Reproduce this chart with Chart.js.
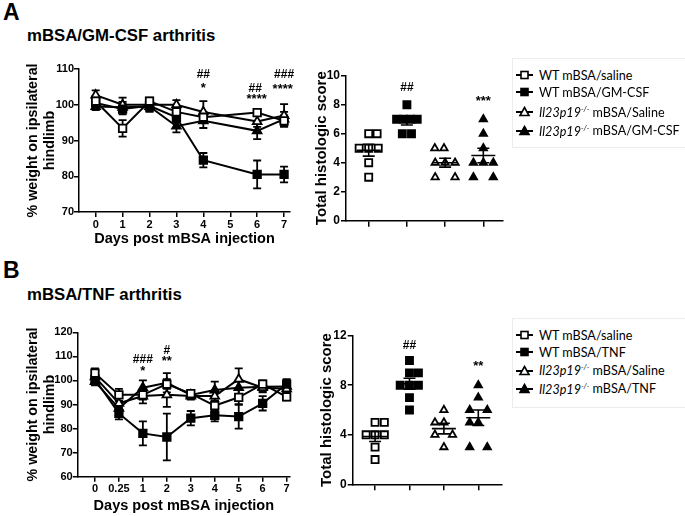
<!DOCTYPE html>
<html>
<head>
<meta charset="utf-8">
<script src="https://cdn.jsdelivr.net/npm/chart.js@4.4.1/dist/chart.umd.min.js"></script>
<style>
  body { margin: 0; background: #fff; }
  #fig { position: relative; width: 685px; height: 516px; overflow: hidden; background: #fff;
         font-family: "Liberation Sans", Arial, sans-serif; color: #000; }
  .abs { position: absolute; }
  .panel { font-weight: bold; font-size: 23px; line-height: 1; }
  .ttl { font-weight: bold; font-size: 16.8px; line-height: 1; white-space: nowrap; }
  .legbox { position: absolute; border: 1px solid #ececec; }
  .row { position: absolute; left: 516px; height: 18px; display: flex; align-items: center;
         font-family: Lato, "Open Sans", sans-serif; font-size: 12.6px; white-space: nowrap; }
  .row svg { margin-right: 6px; }
  .row i sup { font-size: 7.5px; }
</style>
</head>
<body>
<div id="fig">
  <div class="abs panel" style="left:3px;top:1px">A</div>
  <div class="abs ttl" style="left:27px;top:28px">mBSA/GM-CSF arthritis</div>
  <div class="abs panel" style="left:3px;top:259px">B</div>
  <div class="abs ttl" style="left:27px;top:287px">mBSA/TNF arthritis</div>

  <div class="abs" style="left:0;top:50px"><canvas id="lineA" width="300" height="198"></canvas></div>
  <div class="abs" style="left:295px;top:55px"><canvas id="scoreA" width="215" height="180"></canvas></div>
  <div class="abs" style="left:0;top:310px"><canvas id="lineB" width="300" height="205"></canvas></div>
  <div class="abs" style="left:300px;top:315px"><canvas id="scoreB" width="210" height="180"></canvas></div>

  <div class="legbox" style="left:512px;top:58px;width:180px;height:88px"></div>
  <div class="legbox" style="left:512px;top:318px;width:180px;height:88px"></div>
  <div id="legA"></div>
  <div id="legB"></div>
</div>

<script>
// ---- panel A: weight bearing (days 0-7, no day 5 reading)
const daysA = [0, 1, 2, 3, 4, 6, 7];
const dayTicksA = ['0', '1', '2', '3', '4', '5', '6', '7'];
const wtSalineA = [101, 93.4, 101, 98, 96.5, 97.8, 95.5];
const wtSalineErrA = [1.5, 2.3, 1, 1.5, 1.5, 1, 1.5];
const wtGmcsfA = [100.5, 98.8, 99.7, 96.5, 84.5, 80.5, 80.5];
const wtGmcsfErrA = [1.5, 1.5, 1.5, 1.5, 2, 3.9, 2.2];
const koSalineA = [102.7, 100, 100, 100, 98, 95.3, 97];
const koSalineErrA = [1.3, 2, 1.5, 1.3, 3, 1.5, 3.2];
const koGmcsfA = [99.5, 99.3, 99.5, 94, 95.5, 92.7, 96];
const koGmcsfErrA = [1, 1.5, 1.5, 1.7, 2, 2.3, 2];

// ---- panel A: histologic scores
const wtSalineScoreA = [6, 6, 5, 5, 5, 4, 3];
const wtGmcsfScoreA = [8, 7, 7, 7, 7, 6, 6];
const koSalineScoreA = [5, 5, 4, 4, 4, 3, 3];
const koGmcsfScoreA = [7, 6, 5, 4, 4, 4, 3, 3];

// ---- panel B: weight bearing
const dayTicksB = ['0', '0.25', '1', '2', '3', '4', '5', '6', '7'];
const wtSalineB = [103, 94, 94, 98.5, 94.5, 89.5, 93, 98.5, 93.2];
const wtSalineErrB = [2, 2.5, 2, 2, 1.5, 2, 3, 1.5, 1.5];
const wtTnfB = [100.5, 86.3, 78, 76.5, 84.3, 85.5, 85, 90.5, 98.5];
const wtTnfErrB = [1.5, 2.5, 5, 9.7, 3, 2.5, 5, 3, 2];
const koSalineB = [101.5, 90.5, 93.5, 94, 93.5, 93.5, 100.5, 97, 96.5];
const koSalineErrB = [2, 2.5, 3, 5, 1.5, 2, 4.5, 2, 2];
const koTnfB = [99.5, 88.4, 97, 99, 94, 96, 97, 97.4, 97.5];
const koTnfErrB = [1.5, 3, 3, 4, 1.5, 3.5, 3, 2, 2];

// ---- panel B: histologic scores
const wtSalineScoreB = [5, 5, 4, 4, 4, 3, 2];
const wtTnfScoreB = [10, 9, 9, 8, 8, 8, 7, 6];
const koSalineScoreB = [6, 5, 5, 4, 4, 3];
const koTnfScoreB = [8, 7, 6, 6, 5, 5, 3, 3];

// significance marks (x = day position, y = value on axis)
const notesA = [
  { x: 4, y: 108.3, t: '##' }, { x: 4, y: 104.6, t: '*' },
  { x: 5.93, y: 104.5, t: '##' }, { x: 5.98, y: 101.6, t: '****' },
  { x: 7, y: 108.3, t: '###' }, { x: 6.95, y: 104.2, t: '****' }
];
const notesB = [
  { x: 2, y: 108.8, t: '###' }, { x: 2, y: 103.6, t: '*' },
  { x: 3, y: 112.2, t: '#' }, { x: 3, y: 108.1, t: '**' }
];
const notesScoreA = [{ x: 2, y: 9.2, t: '##' }, { x: 4, y: 8.2, t: '***' }];
const notesScoreB = [{ x: 2, y: 11.2, t: '##' }, { x: 4, y: 9.5, t: '**' }];

Chart.defaults.font.family = '"Liberation Sans", Arial, sans-serif';
Chart.defaults.color = '#000';

const errorBars = {
  id: 'errorBars',
  beforeDatasetsDraw(chart) {
    const ctx = chart.ctx, ys = chart.scales.y;
    chart.data.datasets.forEach((ds, i) => {
      if (!ds.errors) return;
      const meta = chart.getDatasetMeta(i);
      ctx.save();
      ctx.strokeStyle = '#000';
      ctx.lineWidth = 1.8;
      meta.data.forEach((pt, j) => {
        const v = ds.data[j].y, e = ds.errors[j];
        const top = ys.getPixelForValue(v + e), bot = ys.getPixelForValue(v - e);
        ctx.beginPath();
        ctx.moveTo(pt.x, top); ctx.lineTo(pt.x, bot);
        ctx.moveTo(pt.x - 4, top); ctx.lineTo(pt.x + 4, top);
        ctx.moveTo(pt.x - 4, bot); ctx.lineTo(pt.x + 4, bot);
        ctx.stroke();
      });
      ctx.restore();
    });
  }
};

const meanSem = {
  id: 'meanSem',
  afterDatasetsDraw(chart) {
    const { ctx, scales: { x, y } } = chart;
    chart.data.datasets.forEach(ds => {
      const v = ds.data.map(p => p.y), n = v.length;
      const m = v.reduce((a, b) => a + b, 0) / n;
      const sd = Math.sqrt(v.reduce((a, b) => a + (b - m) ** 2, 0) / (n - 1));
      const se = sd / Math.sqrt(n);
      const cx = x.getPixelForValue(ds.group);
      const pm = y.getPixelForValue(m), pt = y.getPixelForValue(m + se), pb = y.getPixelForValue(m - se);
      ctx.save();
      ctx.strokeStyle = '#000';
      ctx.lineWidth = 1.6;
      ctx.beginPath();
      ctx.moveTo(cx - 12, pm); ctx.lineTo(cx + 12, pm);
      ctx.moveTo(cx, pt); ctx.lineTo(cx, pb);
      ctx.moveTo(cx - 6, pt); ctx.lineTo(cx + 6, pt);
      ctx.moveTo(cx - 6, pb); ctx.lineTo(cx + 6, pb);
      ctx.stroke();
      ctx.restore();
    });
  }
};

const notes = {
  id: 'notes',
  afterDatasetsDraw(chart, args, opts) {
    const { ctx, scales: { x, y } } = chart;
    (opts.items || []).forEach(n => {
      ctx.save();
      ctx.font = (n.t.indexOf('*') >= 0 ? 'bold 13px ' : 'bold 12px ') + Chart.defaults.font.family;
      ctx.fillStyle = '#000';
      ctx.textAlign = 'center';
      ctx.textBaseline = 'middle';
      ctx.fillText(n.t, x.getPixelForValue(n.x), y.getPixelForValue(n.y));
      ctx.restore();
    });
  }
};

const axisGrid = { drawOnChartArea: false, drawTicks: true, tickLength: 5, color: '#000', lineWidth: 1.5 };
const axisBorder = { color: '#000', width: 1.5 };

const styles = [
  { pointStyle: 'rect', pointBackgroundColor: '#fff', pointRadius: 5.3 },
  { pointStyle: 'rect', pointBackgroundColor: '#000', pointRadius: 5.3 },
  { pointStyle: 'triangle', pointBackgroundColor: '#fff', pointRadius: 5 },
  { pointStyle: 'triangle', pointBackgroundColor: '#000', pointRadius: 5 }
];

function lineSet(label, xs, ys, errs, k) {
  return Object.assign({
    label: label,
    data: ys.map((v, i) => ({ x: xs[i], y: v })),
    errors: errs,
    borderColor: '#000',
    borderWidth: 2,
    pointBorderColor: '#000',
    pointBorderWidth: 1.8,
    clip: false
  }, styles[k]);
}

function lineChart(id, sets, ticks, xmin, xmax, ymin, ymax, ystep, pad, yWidth, xHeight, items) {
  return new Chart(document.getElementById(id), {
    type: 'line',
    data: { datasets: sets },
    options: {
      responsive: false, animation: false, devicePixelRatio: 1,
      layout: { padding: pad },
      plugins: { legend: { display: false }, tooltip: { enabled: false }, notes: { items: items } },
      scales: {
        x: {
          type: 'linear', min: xmin, max: xmax,
          ticks: { stepSize: 1, includeBounds: false, autoSkip: false, maxRotation: 0,
                   padding: 1, font: { size: 11, weight: 'bold' }, callback: v => ticks[v] },
          grid: axisGrid, border: axisBorder,
          title: { display: true, text: 'Days post mBSA injection', padding: 0,
                   font: { size: 14.5, weight: 'bold' } },
          afterFit: s => { s.height = xHeight; }
        },
        y: {
          min: ymin, max: ymax,
          ticks: { stepSize: ystep, padding: 0, font: { size: 11, weight: 'bold' } },
          grid: axisGrid, border: axisBorder,
          title: { display: true, text: ['% weight on ipsilateral', 'hindlimb'],
                   padding: { top: 24.5, bottom: 0 },
                   font: { size: 14.3, weight: 'bold', lineHeight: 17 / 14.3 } },
          afterFit: s => { s.width = yWidth; }
        }
      }
    },
    plugins: [errorBars, notes]
  });
}

function scoreSet(label, g, vals, jit, k) {
  return Object.assign({
    label: label, group: g,
    data: vals.map((v, i) => ({ x: g + jit[i], y: v })),
    pointBorderColor: '#000', pointBorderWidth: 1.8, showLine: false, clip: false
  }, styles[k], k < 2 ? { pointRadius: 5 } : { pointRadius: 4.2 });
}

function scoreChart(id, sets, xmin, xmax, ymax, ystep, pad, yWidth, xHeight, items) {
  return new Chart(document.getElementById(id), {
    type: 'scatter',
    data: { datasets: sets },
    options: {
      responsive: false, animation: false, devicePixelRatio: 1,
      layout: { padding: pad },
      plugins: { legend: { display: false }, tooltip: { enabled: false }, notes: { items: items } },
      scales: {
        x: {
          type: 'linear', min: xmin, max: xmax,
          ticks: { stepSize: 1, includeBounds: false, callback: () => '' },
          grid: Object.assign({}, axisGrid, { tickLength: 6 }), border: axisBorder,
          afterFit: s => { s.height = xHeight; }
        },
        y: {
          min: 0, max: ymax,
          ticks: { stepSize: ystep, padding: 1, font: { size: 12, weight: 'bold' } },
          grid: axisGrid, border: axisBorder,
          title: { display: true, text: 'Total histologic score', padding: { top: 18, bottom: 0 },
                   font: { size: 15, weight: 'bold' } },
          afterFit: s => { s.width = yWidth; }
        }
      }
    },
    plugins: [meanSem, notes]
  });
}

// panel A
const xB = dayTicksB.map((t, i) => i);
lineChart('lineA', [
  lineSet('WT mBSA/saline', daysA, wtSalineA, wtSalineErrA, 0),
  lineSet('WT mBSA/GM-CSF', daysA, wtGmcsfA, wtGmcsfErrA, 1),
  lineSet('Il23p19-/- mBSA/Saline', daysA, koSalineA, koSalineErrA, 2),
  lineSet('Il23p19-/- mBSA/GM-CSF', daysA, koGmcsfA, koGmcsfErrA, 3)
], dayTicksA, -0.62, 7.22, 70, 110, 10, { top: 19, right: 10, left: 0, bottom: 0 }, 79, 36, notesA);

scoreChart('scoreA', [
  scoreSet('WT mBSA/saline', 1, wtSalineScoreA, [0, 0.22, -0.25, 0, 0.25, 0, 0], 0),
  scoreSet('WT mBSA/GM-CSF', 2, wtGmcsfScoreA, [0, -0.27, -0.09, 0.09, 0.27, -0.12, 0.12], 1),
  scoreSet('Il23p19-/- mBSA/Saline', 3, koSalineScoreA, [-0.27, -0.03, -0.26, 0, 0.26, -0.26, 0.26], 2),
  scoreSet('Il23p19-/- mBSA/GM-CSF', 4, koGmcsfScoreA, [0, 0, 0, -0.26, 0, 0.26, -0.26, 0.26], 3)
], 0.406, 4.52, 10, 2, { top: 20.7, right: 5, left: 0, bottom: 0 }, 51, 14.3, notesScoreA);

// panel B
lineChart('lineB', [
  lineSet('WT mBSA/saline', xB, wtSalineB, wtSalineErrB, 0),
  lineSet('WT mBSA/TNF', xB, wtTnfB, wtTnfErrB, 1),
  lineSet('Il23p19-/- mBSA/Saline', xB, koSalineB, koSalineErrB, 2),
  lineSet('Il23p19-/- mBSA/TNF', xB, koTnfB, koTnfErrB, 3)
], dayTicksB, -0.72, 8.14, 60, 120, 10, { top: 22.3, right: 10, left: 0, bottom: 0 }, 77.7, 38.3, notesB);

scoreChart('scoreB', [
  scoreSet('WT mBSA/saline', 1, wtSalineScoreB, [0, 0.27, -0.26, 0, 0.27, 0, 0], 0),
  scoreSet('WT mBSA/TNF', 2, wtTnfScoreB, [0, 0, 0.26, -0.27, 0, 0.26, 0, 0], 1),
  scoreSet('Il23p19-/- mBSA/Saline', 3, koSalineScoreB, [0, -0.26, 0, -0.26, 0.25, 0], 2),
  scoreSet('Il23p19-/- mBSA/TNF', 4, koTnfScoreB, [0, 0, -0.25, 0.26, -0.25, 0, -0.25, 0.26], 3)
], 0.35, 4.68, 12, 4, { top: 20.7, right: 8.3, left: 0, bottom: 0 }, 52.7, 10.7, notesScoreB);

// legends (html, icons as small svg)
function icon(k) {
  const fill = (k % 2) ? '#000' : '#fff';
  const mark = k < 2
    ? '<rect x="5" y="2.5" width="7" height="7" fill="' + fill + '" stroke="#000" stroke-width="1.6"/>'
    : '<polygon points="8.5,1.5 13,9.5 4,9.5" fill="' + fill + '" stroke="#000" stroke-width="1.6"/>';
  return '<svg width="17" height="12"><line x1="0" y1="6" x2="17" y2="6" stroke="#000" stroke-width="2"/>' + mark + '</svg>';
}
function legend(id, treat, tops) {
  const names = ['WT mBSA/saline', 'WT mBSA/' + treat,
    '<i>Il23p19<sup>-/-</sup></i> mBSA/Saline', '<i>Il23p19<sup>-/-</sup></i> mBSA/' + treat];
  document.getElementById(id).innerHTML = names.map((n, k) =>
    '<div class="row" style="top:' + tops[k] + 'px">' + icon(k) + '<span>' + n + '</span></div>').join('');
}
legend('legA', 'GM-CSF', [66, 83.3, 103.3, 122]);
legend('legB', 'TNF', [326, 343.3, 361.7, 380]);
</script>
</body>
</html>
